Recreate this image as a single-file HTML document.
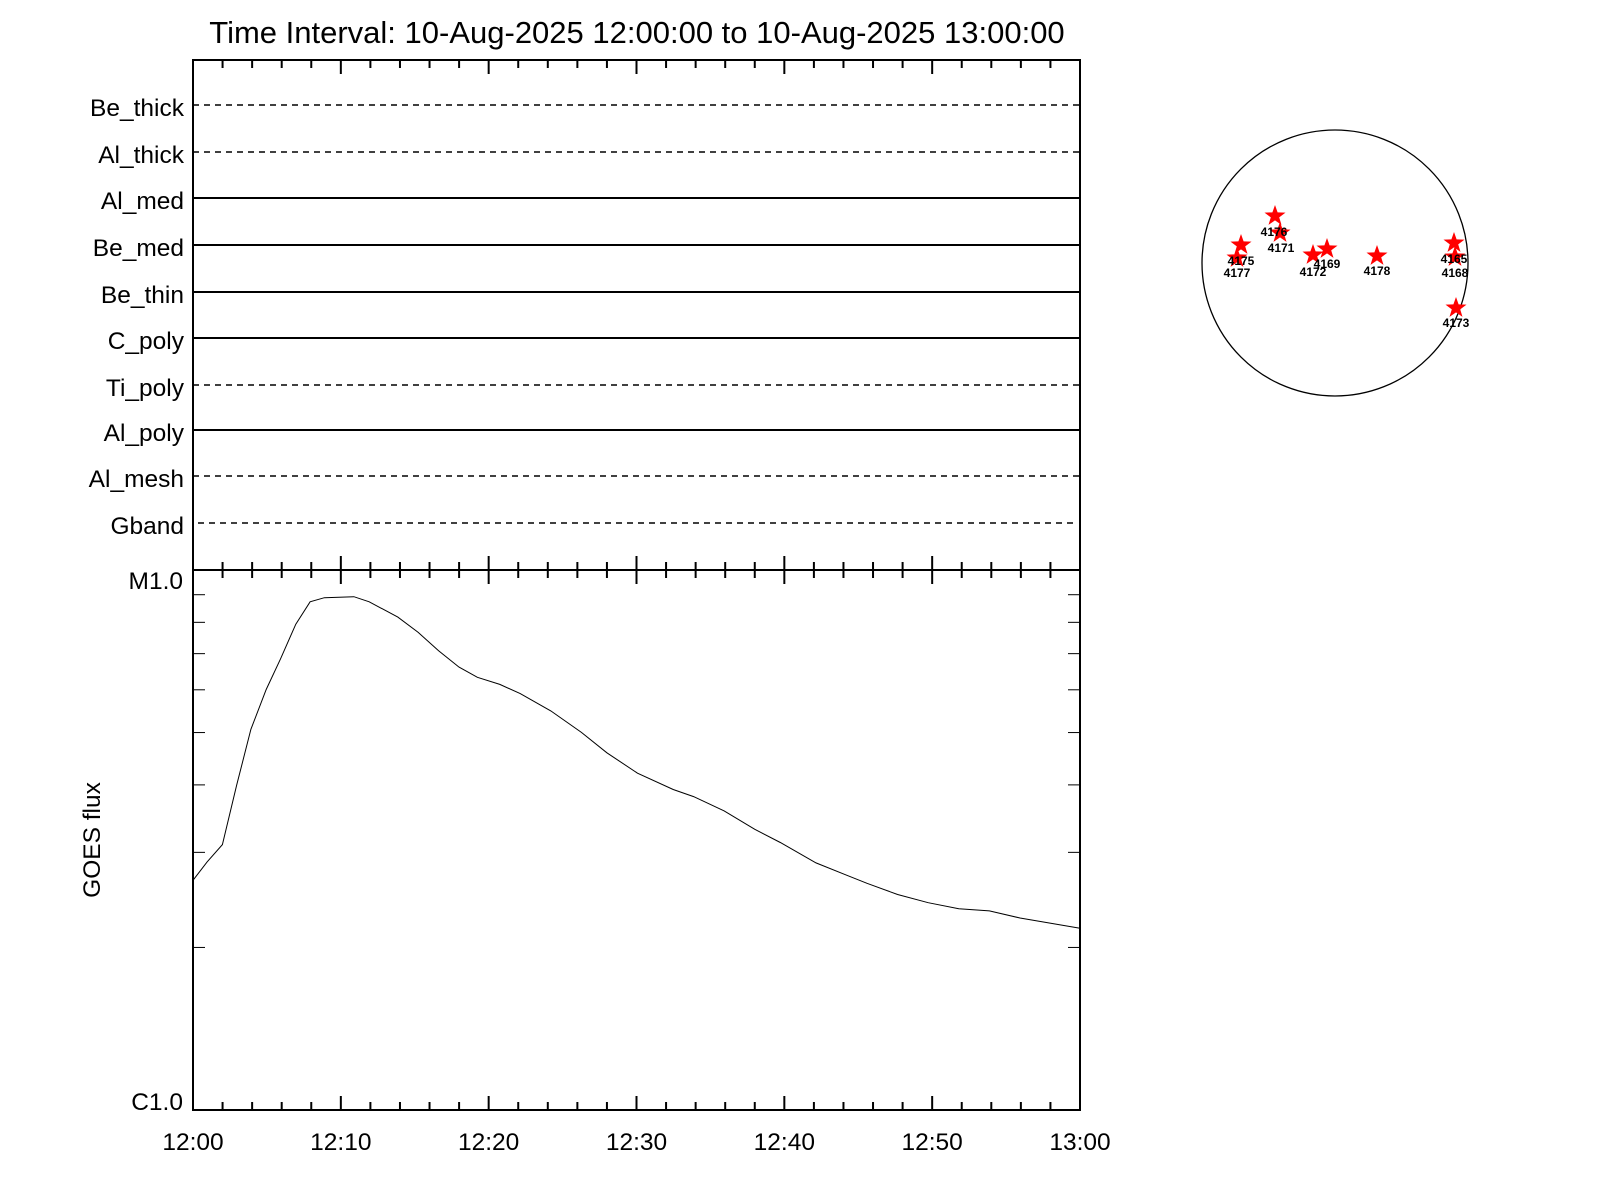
<!DOCTYPE html>
<html><head><meta charset="utf-8"><style>
html,body{margin:0;padding:0;background:#fff;}
svg{display:block;font-family:"Liberation Sans",sans-serif;}
</style></head><body>
<svg id="s" width="1600" height="1200" xmlns="http://www.w3.org/2000/svg">
<rect width="1600" height="1200" fill="#fff"/>
<text x="637" y="43" font-size="31" text-anchor="middle">Time Interval: 10-Aug-2025 12:00:00 to 10-Aug-2025 13:00:00</text>
<g id="ax" stroke="#000" stroke-width="2" fill="none">
<rect x="193" y="60" width="887" height="1050"/>
<line x1="193" y1="570" x2="1080" y2="570"/>
</g>
<g id="rows" font-size="24.5" text-anchor="end"></g>
<g id="tk" stroke="#000" stroke-width="2"></g>
<g font-size="24.5" text-anchor="end">
<text x="183" y="589">M1.0</text>
<text x="183" y="1110">C1.0</text>
</g>
<g id="xl" font-size="24.5" text-anchor="middle"></g>
<text transform="translate(100,840) rotate(-90)" font-size="24.5" text-anchor="middle">GOES flux</text>
<polyline id="curve" fill="none" stroke="#000" stroke-width="1"/>
<circle cx="1335" cy="263" r="133" fill="none" stroke="#000" stroke-width="1.3"/>
<g id="stars"></g>
</svg>
<script>
var NS="http://www.w3.org/2000/svg";
function el(p,t,a,txt){var e=document.createElementNS(NS,t);for(var k in a)e.setAttribute(k,a[k]);if(txt)e.textContent=txt;document.getElementById(p).appendChild(e);return e;}
var rows=[["Be_thick",105,1],["Al_thick",152,1],["Al_med",198,0],["Be_med",245,0],["Be_thin",292,0],["C_poly",338,0],["Ti_poly",385,1],["Al_poly",430,0],["Al_mesh",476,1],["Gband",523,1]];
rows.forEach(function(r){
 el("rows","text",{x:184,y:r[1]+11},r[0]);
 var a={x1:r[0]=="Gband"?198:193,y1:r[1],x2:r[0]=="Gband"?1076:1080,y2:r[1],stroke:"#000","stroke-width":r[2]?1.5:2};
 if(r[2])a["stroke-dasharray"]="6,5";
 el("rows","line",a);
});
var x0=193,x1=1080,pm=(x1-x0)/60;
for(var m=0;m<=60;m+=2){
 var x=x0+m*pm,maj=(m%10==0),L=maj?14:8;
 el("tk","line",{x1:x,y1:60,x2:x,y2:60+L});
 el("tk","line",{x1:x,y1:570-L,x2:x,y2:570+L});
 el("tk","line",{x1:x,y1:1110,x2:x,y2:1110-L});
 if(maj){var h=12+Math.floor(m/60),mm=m%60;el("xl","text",{x:x,y:1150},h+":"+(mm<10?"0":"")+mm);}
}
for(var v=2;v<=9;v++){
 var y=1110-Math.log10(v)*540;
 el("tk","line",{x1:193,y1:y,x2:205,y2:y,"stroke-width":1});
 el("tk","line",{x1:1080,y1:y,x2:1068,y2:y,"stroke-width":1});
}
var pts=[[188,863],[203,845],[218,828],[232,770],[246,715],[261,676],[275,646],[290,612],[304,590],[318,586],[347,585],[362,590],[390,605],[410,620],[430,638],[450,654],[468,664],[490,671],[510,680],[540,697],[570,718],[595,738],[625,758],[660,774],[680,781],[710,795],[740,813],[765,826],[800,846],[830,858],[850,866],[880,877],[910,885],[940,891],[970,893],[1000,900],[1058,910]];
document.getElementById("curve").setAttribute("points",pts.map(function(p){return (p[0]==188?193:p[0]==1058?1080:(p[0]*1.02).toFixed(1))+","+(p[1]*1.02).toFixed(1);}).join(" "));
function star(cx,cy,r){var s="";for(var i=0;i<10;i++){var a=-Math.PI/2+i*Math.PI/5,rr=i%2?r*0.4:r;s+=(cx+rr*Math.cos(a)).toFixed(1)+","+(cy+rr*Math.sin(a)).toFixed(1)+" ";}return s;}
var st=[["4176",1275,216,1274,232],["4171",1280,233,1281,248],["4175",1241,245,1241,261],["4177",1237,258,1237,273],["4172",1313,255,1313,272],["4169",1327,249,1327,264],["4178",1377,256,1377,271],["4165",1454,243,1454,259],["4168",1455,257,1455,273],["4173",1456,308,1456,323]];
st.forEach(function(s){el("stars","polygon",{points:star(s[1],s[2],11),fill:"#f00"});});
st.forEach(function(s){el("stars","text",{x:s[3],y:s[4]+4,"font-size":12,"font-weight":"bold","text-anchor":"middle"},s[0]);});
</script>
</body></html>
